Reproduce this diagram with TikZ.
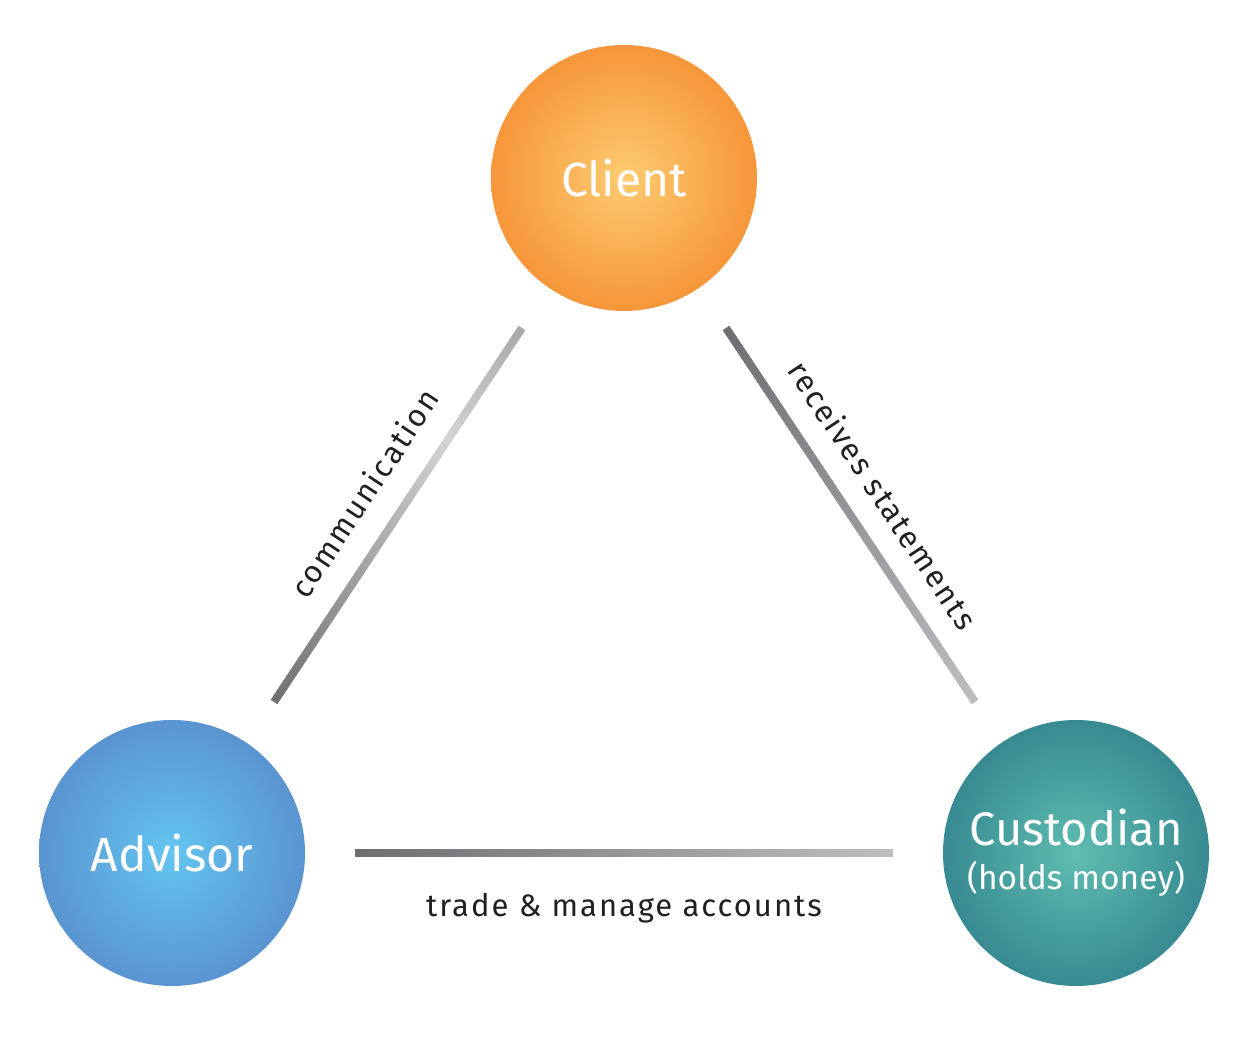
\documentclass[tikz,border=0pt]{standalone}
\usepackage{fontspec}
\setmainfont{Fira Sans}
\newfontfamily\lblfont[LetterSpace=6.5]{Fira Sans}
\usetikzlibrary{calc}
\definecolor{lineDark}{HTML}{6D6E71}
\definecolor{lineLight}{HTML}{BCBEC0}
\definecolor{commA}{HTML}{707072}
\definecolor{commM}{HTML}{D2D3D4}
\definecolor{commB}{HTML}{A7A8AA}
\definecolor{txt}{HTML}{231F20}
\definecolor{cliIn}{HTML}{FDCB70}
\definecolor{cliOut}{HTML}{F7963A}
\definecolor{advIn}{HTML}{63C5F0}
\definecolor{advOut}{HTML}{5A94D1}
\definecolor{cusIn}{HTML}{5FBDB1}
\definecolor{cusOut}{HTML}{378A91}
\tikzset{
  party/.style={circle, minimum size=266pt, inner sep=0pt, text=white, align=center, shading=radial},
  lbl/.style={text=txt, inner sep=0pt, font=\lblfont\fontsize{31}{34}\selectfont},
  seg/.style={line width=8pt, line cap=butt},
}
\begin{document}
\begin{tikzpicture}[x=1pt, y=1pt]
\useasboundingbox (0,0) rectangle (1249,1038);
% parties
\node[party, inner color=cliIn, outer color=cliOut, font=\fontsize{48}{52}\selectfont] (client) at (624,860) {Client};
\node[party, inner color=advIn, outer color=advOut, font=\fontsize{48}{52}\selectfont] (advisor) at (172,185) {Advisor};
\node[party, inner color=cusIn, outer color=cusOut, font=\fontsize{47}{44}\selectfont] (custodian) at (1076,185)
  {Custodian\\{\fontsize{33.5}{38}\selectfont (holds money)}};
% connector end points
\coordinate (ca) at (274,336);
\coordinate (cb) at (522,710);
\coordinate (ra) at (726,710);
\coordinate (rb) at (975,336);
\coordinate (ta) at (355,185);
\coordinate (tb) at (893,185);
% communication (advisor -- client)
\foreach \i in {0,...,79}{
  \pgfmathsetmacro\ta{\i/80}
  \pgfmathsetmacro\tb{min((\i+1.2)/80,1)}
  \pgfmathsetmacro\pp{(\i+0.5)/80}
  \ifdim\pp pt<0.7pt
    \pgfmathsetmacro\pc{\pp/0.7*100}
    \colorlet{segc}{commM!\pc!commA}
  \else
    \pgfmathsetmacro\pc{(\pp-0.7)/0.3*100}
    \colorlet{segc}{commB!\pc!commM}
  \fi
  \draw[seg, segc] ($(ca)!\ta!(cb)$) -- ($(ca)!\tb!(cb)$);
}
% receives statements (client -- custodian)
\foreach \i in {0,...,79}{
  \pgfmathsetmacro\ta{\i/80}
  \pgfmathsetmacro\tb{min((\i+1.2)/80,1)}
  \pgfmathsetmacro\pc{(\i+0.5)/80*100}
  \colorlet{segc}{lineLight!\pc!lineDark}
  \draw[seg, segc] ($(ra)!\ta!(rb)$) -- ($(ra)!\tb!(rb)$);
}
% trade (advisor -- custodian)
\foreach \i in {0,...,79}{
  \pgfmathsetmacro\ta{\i/80}
  \pgfmathsetmacro\tb{min((\i+1.2)/80,1)}
  \pgfmathsetmacro\pc{(\i+0.5)/80*100}
  \colorlet{segc}{lineLight!\pc!lineDark}
  \draw[seg, segc] ($(ta)!\ta!(tb)$) -- ($(ta)!\tb!(tb)$);
}
% labels
\node[lbl, rotate=56.45] (lcomm) at (364,545) {communication};
\node[lbl, rotate=-56.35] (lrec) at (883,543) {receives statements};
\node[lbl] (ltrade) at (624,130) {trade \& manage accounts};
\end{tikzpicture}
\end{document}
